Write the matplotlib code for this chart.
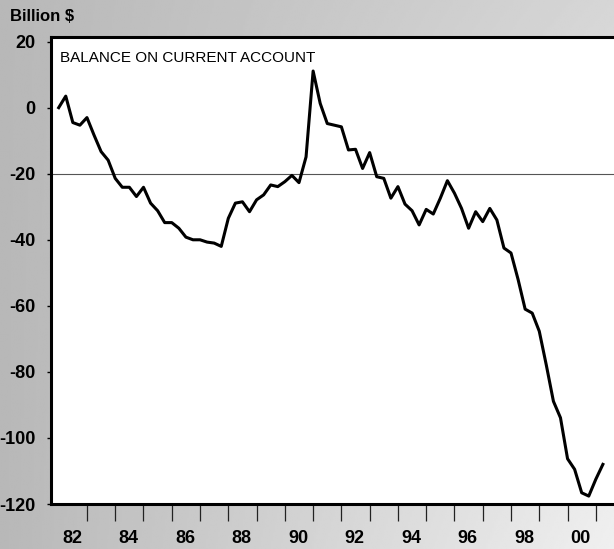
import numpy as np
import matplotlib
matplotlib.use("Agg")
import matplotlib.pyplot as plt

plt.rcParams["font.family"] = ["Liberation Sans", "DejaVu Sans"]

# Quarterly U.S. balance on current account, billions of dollars, from 1982 Q1
first_year = 1982
balance = [
    0.0, 3.5, -4.5, -5.3,          # 1982
    -3.0, -8.3, -13.3, -15.9,      # 1983
    -21.4, -24.1, -24.1, -26.9,    # 1984
    -24.1, -28.9, -31.2, -34.8,    # 1985
    -34.8, -36.5, -39.2, -40.0,    # 1986
    -40.0, -40.7, -41.0, -42.0,    # 1987
    -33.5, -28.9, -28.5, -31.5,    # 1988
    -27.9, -26.4, -23.4, -23.9,    # 1989
    -22.4, -20.5, -22.7, -14.9,    # 1990
    11.1, 1.3, -4.8, -5.3,         # 1991
    -5.8, -12.8, -12.6, -18.4,     # 1992
    -13.6, -20.9, -21.4, -27.4,    # 1993
    -23.9, -29.2, -31.2, -35.5,    # 1994
    -30.8, -32.2, -27.4, -22.1,    # 1995
    -25.9, -30.5, -36.5, -31.5,    # 1996
    -34.5, -30.5, -34.0, -42.5,    # 1997
    -44.0, -52.0, -61.0, -62.2,    # 1998
    -67.7, -78.0, -88.9, -93.9,    # 1999
    -106.3, -109.5, -116.6, -117.6,  # 2000
    -112.5, -108.0,                # 2001
]
label_years = [1982, 1984, 1986, 1988, 1990, 1992, 1994, 1996, 1998, 2000]
year_labels = ["82", "84", "86", "88", "90", "92", "94", "96", "98", "00"]
y_ticks = [20, 0, -20, -40, -60, -80, -100, -120]
reference_level = -20

W, H = 614, 549
fig = plt.figure(figsize=(W / 100, H / 100), dpi=100)

# soft gray backdrop, darker at the upper left, lighter toward the lower right
bg = fig.add_axes([0, 0, 1, 1], zorder=0)
gx, gy = np.meshgrid(np.linspace(0, 1, 300), np.linspace(0, 1, 300))
shade = 0.72 + 0.12 * gx + 0.10 * gx * gy
bg.imshow(shade, cmap="gray", vmin=0, vmax=1, aspect="auto", interpolation="bilinear")
bg.set_axis_off()

left_px, right_px, top_px, bottom_px = 51, 614, 37, 504
ax = fig.add_axes([left_px / W, 1 - bottom_px / H,
                   (right_px - left_px) / W, (bottom_px - top_px) / H], zorder=1)
ax.set_facecolor("white")

t = first_year + np.arange(len(balance)) / 4.0
ax.axhline(reference_level, color="#555555", lw=0.8, zorder=1)
ax.plot(t, balance, color="black", lw=2.2, zorder=3, solid_joinstyle="round")

ax.set_xlim(1981.728, 2001.643)
ax.set_ylim(-120, 21.4)

for side in ("left", "top", "bottom"):
    ax.spines[side].set_linewidth(2.2)
    ax.spines[side].set_color("black")
ax.spines["right"].set_visible(False)

# year boundaries as ticks, even-year labels centered within each year
ax.set_xticks(np.arange(1983, 2002))
ax.set_xticklabels([])
ax.set_xticks([y + 0.47 for y in label_years], minor=True)
ax.set_xticklabels(year_labels, minor=True, fontsize=13, fontweight="bold")
ax.tick_params(axis="x", which="major", direction="out", length=12, width=0.9,
               color="#222222")
ax.tick_params(axis="x", which="minor", length=0, pad=19)

ax.set_yticks(y_ticks)
ax.set_yticklabels([str(v) for v in y_ticks], fontsize=13, fontweight="bold")
ax.tick_params(axis="y", direction="out", length=3, width=1, pad=8)

fig.text(60 / W, 1 - 62 / H, "BALANCE ON CURRENT ACCOUNT", fontsize=11,
         va="baseline", ha="left", zorder=5)
fig.text(10 / W, 1 - 21 / H, "Billion $", fontsize=12, fontweight="bold",
         va="baseline", ha="left", zorder=5)

fig.savefig("out.png", dpi=100)
